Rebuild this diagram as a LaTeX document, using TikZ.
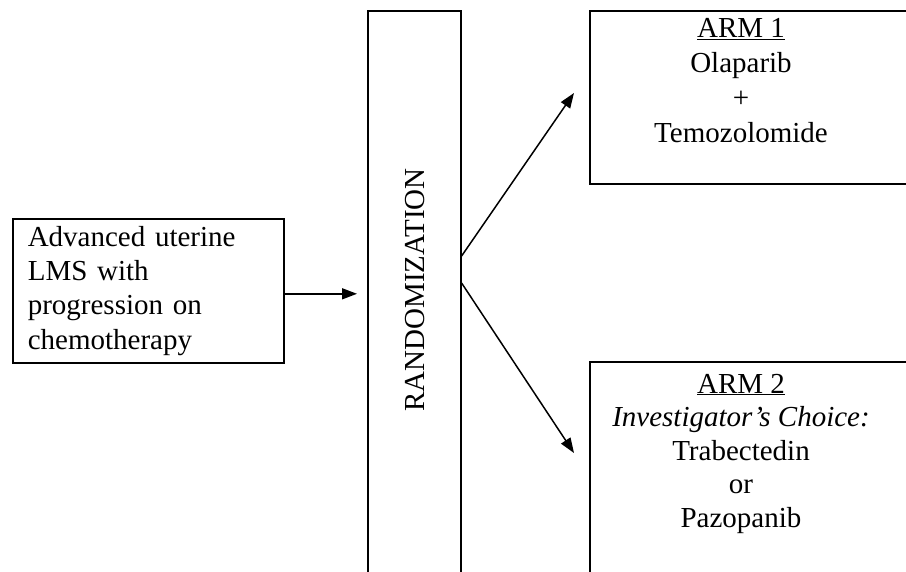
\documentclass[tikz,border=0pt]{standalone}
\usepackage{fontspec}
\setmainfont{Liberation Serif}
\usetikzlibrary{arrows.meta,calc}
\begin{document}
\begin{tikzpicture}[x=1pt,y=-1pt,
  box/.style={draw, line width=1.6pt, inner sep=0pt, rectangle},
  txt/.style={font=\fontsize{29}{34}\selectfont, inner sep=0pt, align=center},
  arr/.style={line width=1.5pt, -{Triangle[length=15pt,width=11pt]}}]
\useasboundingbox (0,0) rectangle (906,571);
\clip (0,0) rectangle (906,571);
% left box
\node[box, minimum width=271pt, minimum height=144pt, anchor=north west,
      text width=241pt, inner xsep=15pt, align=left,
      font=\fontsize{29}{34.3}\selectfont] (src) at (12,218)
      {Advanced uterine\\LMS with\\progression on\\chemotherapy};
% randomization
\node[box, minimum width=93pt, minimum height=610pt, anchor=north west] (rand) at (367,10) {};
\node[txt, rotate=90] (randtxt) at (415,290) {RANDOMIZATION};
% arms
\node[box, minimum width=361pt, minimum height=173pt, anchor=north west] (arm1) at (589,10) {};
\node[box, minimum width=361pt, minimum height=260pt, anchor=north west] (arm2) at (589,361) {};
\node[txt, anchor=base, font=\fontsize{29}{34.7}\selectfont] (arm1txt) at (741,142)
  {\underline{ARM 1}\\Olaparib\\+\\Temozolomide};
\node[txt, anchor=base, font=\fontsize{29}{33.5}\selectfont] (arm2txt) at (741,527)
  {\underline{ARM 2}\\\textit{Investigator’s Choice:}\\Trabectedin\\or\\Pazopanib};
% connectors
\draw[arr] ([yshift=-3pt]src.east) -- ([yshift=-3pt,xshift=-10pt]src.east -| rand.west);
\draw[arr] ($(rand.north east)+(0,246)$) -- ($(arm1.north west)+(-15,83)$);
\draw[arr] ($(rand.north east)+(0,273)$) -- ($(arm2.north west)+(-15,92)$);
\end{tikzpicture}
\end{document}
